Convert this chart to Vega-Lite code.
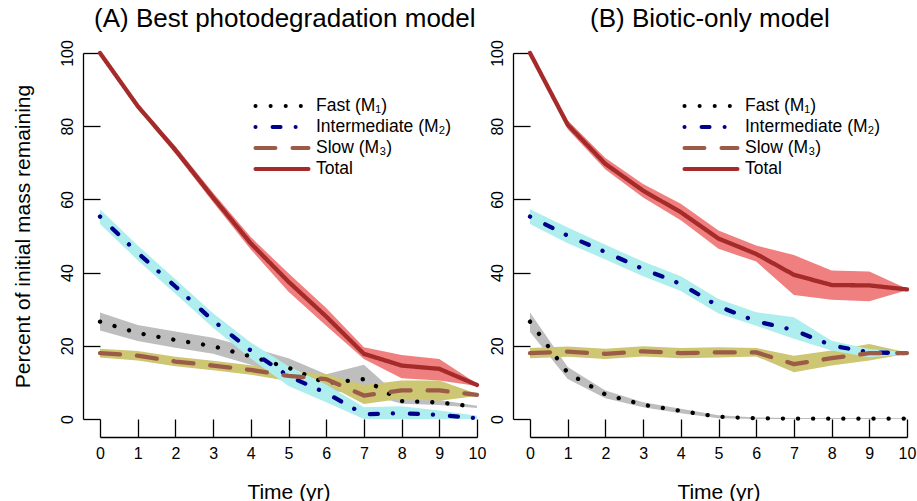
{
  "$schema": "https://vega.github.io/schema/vega-lite/v6.json",
  "padding": {"left": 12, "top": 5, "right": 5, "bottom": 3},
  "background": "white",
  "data": {"values": [
    {"p":"A","c":"F","t":0,"m":26.6,"lo":24.2,"hi":29.1},
    {"p":"A","c":"F","t":1,"m":23.5,"lo":21.3,"hi":25.7},
    {"p":"A","c":"F","t":2,"m":21.6,"lo":19.5,"hi":23.9},
    {"p":"A","c":"F","t":3,"m":19.9,"lo":17.8,"hi":22.2},
    {"p":"A","c":"F","t":4,"m":17.1,"lo":14.8,"hi":19.5},
    {"p":"A","c":"F","t":5,"m":14.0,"lo":11.6,"hi":16.6},
    {"p":"A","c":"F","t":6,"m":9.8,"lo":7.6,"hi":12.2},
    {"p":"A","c":"F","t":7,"m":10.9,"lo":7.2,"hi":14.8},
    {"p":"A","c":"F","t":8,"m":4.9,"lo":4.2,"hi":5.6},
    {"p":"A","c":"F","t":9,"m":4.5,"lo":3.8,"hi":5.2},
    {"p":"A","c":"F","t":10,"m":3.3,"lo":3.0,"hi":3.6},
    {"p":"A","c":"I","t":0,"m":55.3,"lo":53.3,"hi":57.3},
    {"p":"A","c":"I","t":1,"m":45.4,"lo":43.4,"hi":47.4},
    {"p":"A","c":"I","t":2,"m":36.2,"lo":34.2,"hi":38.2},
    {"p":"A","c":"I","t":3,"m":26.9,"lo":24.9,"hi":28.9},
    {"p":"A","c":"I","t":4,"m":18.7,"lo":16.5,"hi":20.9},
    {"p":"A","c":"I","t":5,"m":11.7,"lo":9.0,"hi":14.4},
    {"p":"A","c":"I","t":6,"m":7.1,"lo":4.6,"hi":9.4},
    {"p":"A","c":"I","t":7,"m":1.3,"lo":0,"hi":3.2},
    {"p":"A","c":"I","t":8,"m":1.6,"lo":0,"hi":3.5},
    {"p":"A","c":"I","t":9,"m":1.1,"lo":0,"hi":2.3},
    {"p":"A","c":"I","t":10,"m":0.2,"lo":0,"hi":0.9},
    {"p":"A","c":"S","t":0,"m":18.0,"lo":16.8,"hi":19.2},
    {"p":"A","c":"S","t":1,"m":17.3,"lo":16.0,"hi":18.6},
    {"p":"A","c":"S","t":2,"m":15.7,"lo":14.4,"hi":17.0},
    {"p":"A","c":"S","t":3,"m":14.6,"lo":13.3,"hi":15.9},
    {"p":"A","c":"S","t":4,"m":13.4,"lo":12.1,"hi":14.7},
    {"p":"A","c":"S","t":5,"m":11.8,"lo":10.4,"hi":13.2},
    {"p":"A","c":"S","t":6,"m":10.9,"lo":9.5,"hi":12.3},
    {"p":"A","c":"S","t":7,"m":6.4,"lo":4.1,"hi":9.3},
    {"p":"A","c":"S","t":8,"m":7.8,"lo":5.5,"hi":10.5},
    {"p":"A","c":"S","t":9,"m":7.8,"lo":5.0,"hi":10.5},
    {"p":"A","c":"S","t":10,"m":6.6,"lo":6.3,"hi":6.9},
    {"p":"A","c":"T","t":0,"m":100,"lo":100,"hi":100},
    {"p":"A","c":"T","t":1,"m":85.5,"lo":84.8,"hi":86.2},
    {"p":"A","c":"T","t":2,"m":73.5,"lo":72.5,"hi":74.5},
    {"p":"A","c":"T","t":3,"m":60.5,"lo":59.2,"hi":61.8},
    {"p":"A","c":"T","t":4,"m":48.0,"lo":46.3,"hi":49.7},
    {"p":"A","c":"T","t":5,"m":37.5,"lo":34.8,"hi":39.8},
    {"p":"A","c":"T","t":6,"m":28.0,"lo":25.5,"hi":30.3},
    {"p":"A","c":"T","t":7,"m":17.8,"lo":16.4,"hi":19.6},
    {"p":"A","c":"T","t":8,"m":14.6,"lo":11.1,"hi":17.5},
    {"p":"A","c":"T","t":9,"m":13.7,"lo":10.5,"hi":16.4},
    {"p":"A","c":"T","t":10,"m":9.3,"lo":9.0,"hi":9.6},
    {"p":"B","c":"F","t":0,"m":26.6,"lo":23.8,"hi":29.1},
    {"p":"B","c":"F","t":1,"m":12.6,"lo":10.9,"hi":14.2},
    {"p":"B","c":"F","t":2,"m":6.7,"lo":5.7,"hi":7.8},
    {"p":"B","c":"F","t":3,"m":3.9,"lo":3.2,"hi":4.6},
    {"p":"B","c":"F","t":4,"m":2.2,"lo":1.6,"hi":2.8},
    {"p":"B","c":"F","t":5,"m":0.6,"lo":0.2,"hi":1.0},
    {"p":"B","c":"F","t":6,"m":0.2,"lo":0,"hi":0.4},
    {"p":"B","c":"F","t":7,"m":0.1,"lo":0,"hi":0.3},
    {"p":"B","c":"F","t":8,"m":0.1,"lo":0,"hi":0.3},
    {"p":"B","c":"F","t":9,"m":0.1,"lo":0,"hi":0.3},
    {"p":"B","c":"F","t":10,"m":0.1,"lo":0,"hi":0.2},
    {"p":"B","c":"I","t":0,"m":55.3,"lo":53.3,"hi":57.3},
    {"p":"B","c":"I","t":1,"m":50.1,"lo":48.0,"hi":52.3},
    {"p":"B","c":"I","t":2,"m":45.6,"lo":43.6,"hi":47.6},
    {"p":"B","c":"I","t":3,"m":41.0,"lo":39.0,"hi":43.0},
    {"p":"B","c":"I","t":4,"m":36.9,"lo":35.0,"hi":39.0},
    {"p":"B","c":"I","t":5,"m":30.8,"lo":28.8,"hi":32.8},
    {"p":"B","c":"I","t":6,"m":26.7,"lo":25.5,"hi":29.2},
    {"p":"B","c":"I","t":7,"m":24.3,"lo":21.9,"hi":27.8},
    {"p":"B","c":"I","t":8,"m":20.1,"lo":18.7,"hi":21.4},
    {"p":"B","c":"I","t":9,"m":18.2,"lo":16.9,"hi":19.1},
    {"p":"B","c":"I","t":10,"m":18.0,"lo":17.7,"hi":18.3},
    {"p":"B","c":"S","t":0,"m":18.0,"lo":16.6,"hi":19.4},
    {"p":"B","c":"S","t":1,"m":18.4,"lo":17.0,"hi":19.8},
    {"p":"B","c":"S","t":2,"m":17.8,"lo":16.4,"hi":19.2},
    {"p":"B","c":"S","t":3,"m":18.5,"lo":17.1,"hi":19.9},
    {"p":"B","c":"S","t":4,"m":18.0,"lo":16.6,"hi":19.4},
    {"p":"B","c":"S","t":5,"m":18.2,"lo":16.8,"hi":19.6},
    {"p":"B","c":"S","t":6,"m":18.2,"lo":17.1,"hi":19.4},
    {"p":"B","c":"S","t":7,"m":15.0,"lo":12.8,"hi":17.3},
    {"p":"B","c":"S","t":8,"m":16.6,"lo":14.6,"hi":18.7},
    {"p":"B","c":"S","t":9,"m":18.0,"lo":16.0,"hi":20.5},
    {"p":"B","c":"S","t":10,"m":18.0,"lo":17.8,"hi":18.2},
    {"p":"B","c":"T","t":0,"m":100,"lo":100,"hi":100},
    {"p":"B","c":"T","t":1,"m":80.4,"lo":79.2,"hi":81.6},
    {"p":"B","c":"T","t":2,"m":69.7,"lo":68.2,"hi":71.3},
    {"p":"B","c":"T","t":3,"m":62.4,"lo":60.5,"hi":64.2},
    {"p":"B","c":"T","t":4,"m":56.5,"lo":54.3,"hi":58.8},
    {"p":"B","c":"T","t":5,"m":49.3,"lo":46.5,"hi":51.5},
    {"p":"B","c":"T","t":6,"m":45.1,"lo":43.0,"hi":47.4},
    {"p":"B","c":"T","t":7,"m":39.4,"lo":33.9,"hi":44.8},
    {"p":"B","c":"T","t":8,"m":36.6,"lo":32.6,"hi":40.6},
    {"p":"B","c":"T","t":9,"m":36.5,"lo":32.2,"hi":40.3},
    {"p":"B","c":"T","t":10,"m":35.4,"lo":35.2,"hi":35.6}
  ]},
  "bounds": "flush",
  "spacing": 53,
  "resolve": {
    "scale": {"stroke": "independent", "strokeDash": "independent"},
    "legend": {"stroke": "independent", "strokeDash": "independent"}
  },
  "hconcat": [
    {
      "width": 377, "height": 366,
      "title": {"text": "(A) Best photodegradation model", "anchor": "start", "dx": -6, "offset": 8},
      "transform": [{"filter": "datum.p == 'A'"}],
      "encoding": {"x": {"field": "t", "type": "quantitative", "title": "Time (yr)", "scale": {"domain": [0, 10], "nice": false, "zero": false}}},
      "layer": [
        {"transform": [{"filter": "datum.c == 'F'"}], "mark": {"type": "area", "color": "#BEBEBE"},
         "encoding": {"y": {"field": "lo", "type": "quantitative", "title": "Percent of initial mass remaining", "scale": {"domain": [0, 100], "nice": false}}, "y2": {"field": "hi"}}},
        {"transform": [{"filter": "datum.c == 'S'"}], "mark": {"type": "area", "color": "#CDC673"},
         "encoding": {"y": {"field": "lo", "type": "quantitative", "title": "Percent of initial mass remaining", "scale": {"domain": [0, 100], "nice": false}}, "y2": {"field": "hi"}}},
        {"transform": [{"filter": "datum.c == 'I'"}], "mark": {"type": "area", "color": "#AEEEEE"},
         "encoding": {"y": {"field": "lo", "type": "quantitative", "title": "Percent of initial mass remaining", "scale": {"domain": [0, 100], "nice": false}}, "y2": {"field": "hi"}}},
        {"transform": [{"filter": "datum.c == 'T'"}], "mark": {"type": "area", "color": "#F08080"},
         "encoding": {"y": {"field": "lo", "type": "quantitative", "title": "Percent of initial mass remaining", "scale": {"domain": [0, 100], "nice": false}}, "y2": {"field": "hi"}}},
        {"mark": {"type": "line", "strokeWidth": 4.3, "strokeCap": "round", "strokeJoin": "round"},
         "encoding": {
           "y": {"field": "m", "type": "quantitative", "title": "Percent of initial mass remaining", "scale": {"domain": [0, 100], "nice": false}},
           "detail": {"field": "c"},
           "order": {"field": "t"},
           "stroke": {"field": "c", "type": "nominal", "scale": {"domain": ["F", "I", "S", "T"], "range": ["#000000", "#00008B", "#9B5B47", "#A52A2A"]},
             "legend": {"title": null, "orient": "none", "legendX": 173, "legendY": 44, "direction": "vertical", "symbolType": "M-4,0L4,0", "symbolSize": 176, "symbolStrokeWidth": 4, "labelFontSize": 17.5, "labelOffset": 25, "rowPadding": 3, "padding": 0,
               "labelExpr": "datum.label == 'F' ? 'Fast (M₁)' : datum.label == 'I' ? 'Intermediate (M₂)' : datum.label == 'S' ? 'Slow (M₃)' : 'Total'",
               "encoding": {"symbols": {"strokeCap": {"value": "round"}}}}},
           "strokeDash": {"field": "c", "type": "nominal", "scale": {"domain": ["F", "I", "S", "T"], "range": [[0.1, 15], [0.1, 17, 8, 15], [20, 17], [1, 0]]},
             "legend": {"title": null, "orient": "none", "legendX": 173, "legendY": 44, "direction": "vertical", "symbolType": "M-4,0L4,0", "symbolSize": 176, "symbolStrokeWidth": 4, "labelFontSize": 17.5, "labelOffset": 25, "rowPadding": 3, "padding": 0,
               "labelExpr": "datum.label == 'F' ? 'Fast (M₁)' : datum.label == 'I' ? 'Intermediate (M₂)' : datum.label == 'S' ? 'Slow (M₃)' : 'Total'",
               "encoding": {"symbols": {"strokeCap": {"value": "round"}}}}}
         }}
      ]
    },
    {
      "width": 377, "height": 366,
      "title": {"text": "(B) Biotic-only model", "anchor": "start", "dx": 60, "offset": 8},
      "transform": [{"filter": "datum.p == 'B'"}],
      "encoding": {"x": {"field": "t", "type": "quantitative", "title": "Time (yr)", "scale": {"domain": [0, 10], "nice": false, "zero": false}}},
      "layer": [
        {"transform": [{"filter": "datum.c == 'F'"}], "mark": {"type": "area", "color": "#BEBEBE"},
         "encoding": {"y": {"field": "lo", "type": "quantitative", "title": null, "scale": {"domain": [0, 100], "nice": false}}, "y2": {"field": "hi"}}},
        {"transform": [{"filter": "datum.c == 'S'"}], "mark": {"type": "area", "color": "#CDC673"},
         "encoding": {"y": {"field": "lo", "type": "quantitative", "title": null, "scale": {"domain": [0, 100], "nice": false}}, "y2": {"field": "hi"}}},
        {"transform": [{"filter": "datum.c == 'I'"}], "mark": {"type": "area", "color": "#AEEEEE"},
         "encoding": {"y": {"field": "lo", "type": "quantitative", "title": null, "scale": {"domain": [0, 100], "nice": false}}, "y2": {"field": "hi"}}},
        {"transform": [{"filter": "datum.c == 'T'"}], "mark": {"type": "area", "color": "#F08080"},
         "encoding": {"y": {"field": "lo", "type": "quantitative", "title": null, "scale": {"domain": [0, 100], "nice": false}}, "y2": {"field": "hi"}}},
        {"mark": {"type": "line", "strokeWidth": 4.3, "strokeCap": "round", "strokeJoin": "round"},
         "encoding": {
           "y": {"field": "m", "type": "quantitative", "title": null, "scale": {"domain": [0, 100], "nice": false}},
           "detail": {"field": "c"},
           "order": {"field": "t"},
           "stroke": {"field": "c", "type": "nominal", "scale": {"domain": ["F", "I", "S", "T"], "range": ["#000000", "#00008B", "#9B5B47", "#A52A2A"]},
             "legend": {"title": null, "orient": "none", "legendX": 172, "legendY": 44, "direction": "vertical", "symbolType": "M-4,0L4,0", "symbolSize": 176, "symbolStrokeWidth": 4, "labelFontSize": 17.5, "labelOffset": 25, "rowPadding": 3, "padding": 0,
               "labelExpr": "datum.label == 'F' ? 'Fast (M₁)' : datum.label == 'I' ? 'Intermediate (M₂)' : datum.label == 'S' ? 'Slow (M₃)' : 'Total'",
               "encoding": {"symbols": {"strokeCap": {"value": "round"}}}}},
           "strokeDash": {"field": "c", "type": "nominal", "scale": {"domain": ["F", "I", "S", "T"], "range": [[0.1, 15], [0.1, 17, 8, 15], [20, 17], [1, 0]]},
             "legend": {"title": null, "orient": "none", "legendX": 172, "legendY": 44, "direction": "vertical", "symbolType": "M-4,0L4,0", "symbolSize": 176, "symbolStrokeWidth": 4, "labelFontSize": 17.5, "labelOffset": 25, "rowPadding": 3, "padding": 0,
               "labelExpr": "datum.label == 'F' ? 'Fast (M₁)' : datum.label == 'I' ? 'Intermediate (M₂)' : datum.label == 'S' ? 'Slow (M₃)' : 'Total'",
               "encoding": {"symbols": {"strokeCap": {"value": "round"}}}}}
         }}
      ]
    }
  ],
  "config": {
    "font": "Liberation Sans",
    "view": {"stroke": null},
    "title": {"fontSize": 26, "fontWeight": "normal", "font": "Liberation Sans", "color": "black", "frame": "group"},
    "legend": {"labelFont": "Liberation Sans", "labelColor": "black"},
    "axis": {"grid": false, "domainColor": "black", "tickColor": "black", "domainWidth": 1.3, "tickWidth": 1.3, "labelFont": "Liberation Sans", "labelFontSize": 16, "labelColor": "black", "titleFont": "Liberation Sans", "titleFontSize": 21, "titleFontWeight": "normal", "titleColor": "black", "labelFlush": false, "labelOverlap": false},
    "axisX": {"offset": 18, "tickSize": -18, "labelPadding": 26, "tickCount": 10, "titlePadding": 20},
    "axisY": {"offset": 17, "tickSize": -17, "labelPadding": 25, "labelAngle": 270, "labelAlign": "center", "labelBaseline": "bottom", "tickCount": 6, "titlePadding": 26}
  }
}
